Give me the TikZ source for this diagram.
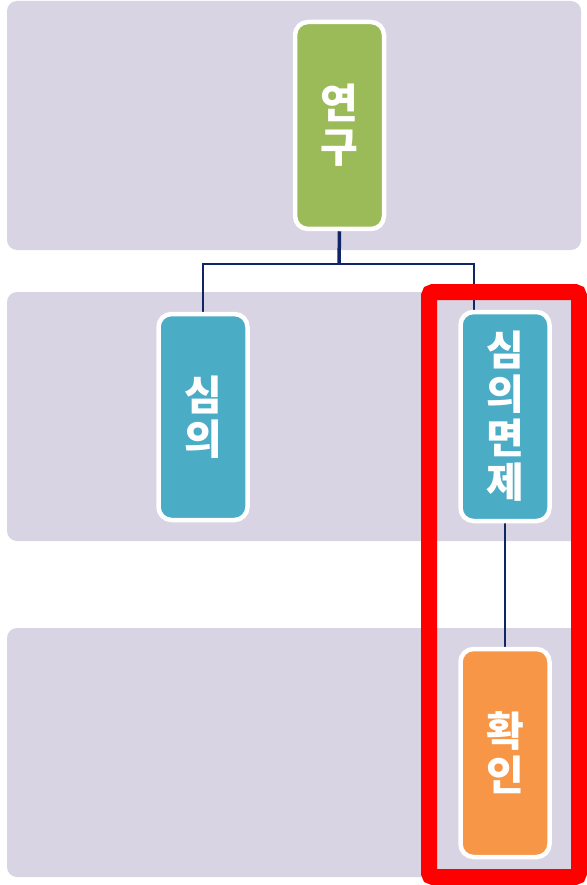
\documentclass[tikz,border=0pt]{standalone}
\usepackage{fontspec}
\newfontfamily\kr{Noto Sans CJK KR}
\definecolor{band}{RGB}{216,212,228}
\definecolor{gre}{RGB}{155,187,89}
\definecolor{tea}{RGB}{75,172,198}
\definecolor{ora}{RGB}{247,150,70}
\definecolor{navy}{RGB}{16,37,102}
\pgfdeclarelayer{bg}
\pgfdeclarelayer{mid}
\pgfsetlayers{bg,mid,main}
\tikzset{
  bandbox/.style={fill=band, draw=none, rounded corners=10pt},
  item/.style={draw=white, line width=4.5pt, rounded corners=13pt, minimum width=89pt,
    text=white, align=center, inner sep=0pt,
    font=\kr\bfseries\fontsize{41}{44}\selectfont},
  conn/.style={draw=navy, line width=2.5pt},
}
\begin{document}
\begin{tikzpicture}[x=1pt,y=-1pt]
\useasboundingbox (0,0) rectangle (586,885);
\begin{pgfonlayer}{bg}
\fill[white] (0,0) rectangle (586,885);
\path[bandbox] (7,1) rectangle (581,250);
\path[bandbox] (7,292) rectangle (581,541);
\path[bandbox] (7,628) rectangle (581,877);
\end{pgfonlayer}
% nodes
\node[item, fill=gre, minimum height=207pt] (yg) at (339.5,125.5) {연\\구};
\node[item, fill=tea, minimum height=206pt] (s1) at (203,417) {심\\의};
\node[item, fill=tea, minimum height=209pt] (s2) at (505,416.5) {심\\의\\면\\제};
\node[item, fill=ora, minimum height=208pt] (hw) at (505,753) {확\\인};
% connectors
\coordinate (jn) at (339,264);
\coordinate (jl) at (203,264);
\coordinate (jr) at (474,264);
\begin{pgfonlayer}{mid}
\draw[conn, line width=3.5pt] (yg.south) -- (jn);
\draw[conn, line cap=rect] (jl) -- (jr);
\draw[conn] (jl) -- (s1.north);
\draw[conn] (jr) -- (jr |- s2.north);
\draw[conn] (s2.south) -- (hw.north);
\end{pgfonlayer}
% red highlight
\draw[red, line width=16pt, rounded corners=4pt] (429,292) rectangle (579,877);
\end{tikzpicture}
\end{document}
